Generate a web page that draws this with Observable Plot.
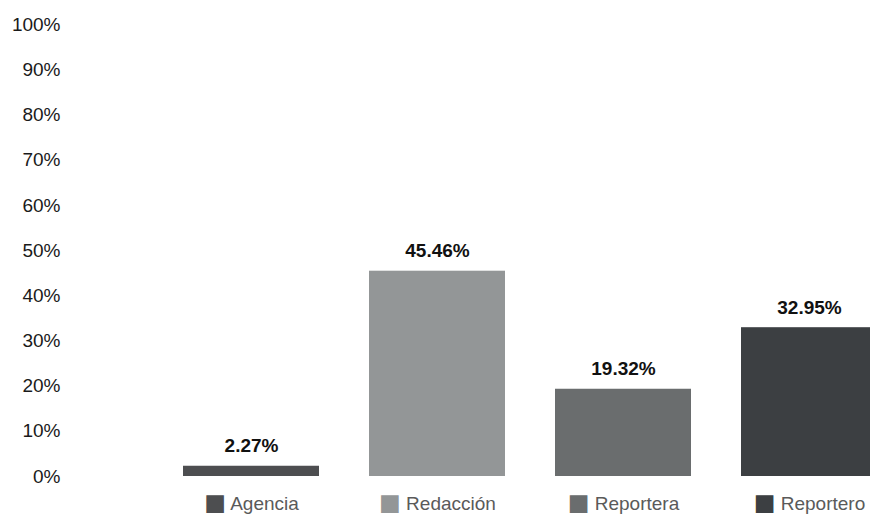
<!DOCTYPE html>
<html>
<head>
<meta charset="utf-8">
<script src="https://cdn.jsdelivr.net/npm/d3@7"></script>
<script src="https://cdn.jsdelivr.net/npm/@observablehq/plot@0.6"></script>
<style>
  html, body { margin: 0; padding: 0; background: #fff; }
  #chart svg { display: block; overflow: hidden; }
</style>
</head>
<body>
<div id="chart"></div>
<script>
const categories = ["Agencia", "Redacción", "Reportera", "Reportero"];
const values = [2.27, 45.46, 19.32, 32.95];
const valueLabels = ["2.27%", "45.46%", "19.32%", "32.95%"];
const yTicks = [0, 10, 20, 30, 40, 50, 60, 70, 80, 90, 100];
const colors = ["#4d4e50", "#939697", "#6a6d6e", "#3c3f42"];

const data = categories.map((c, i) => ({category: c, value: values[i], label: valueLabels[i]}));

const chart = Plot.plot({
  width: 870,
  height: 514,
  marginLeft: 62,
  marginRight: 0,
  marginTop: 0,
  marginBottom: 18,
  style: {fontFamily: "'Liberation Sans', Arial, sans-serif", fontSize: "19px", background: "#fff"},
  x: {domain: categories, range: [158, 902], paddingInner: 0.27, paddingOuter: 0.135, label: null},
  y: {domain: [0, 100], range: [476, 24.4], label: null},
  color: {domain: categories, range: colors},
  marks: [
    Plot.barY(data, {x: "category", y: "value", fill: "category"}),
    Plot.text(data, {x: "category", y: "value", text: "label", lineAnchor: "bottom", dy: -14,
      fontWeight: "bold", fontSize: 19, fill: "#111"}),
    Plot.axisY({ticks: yTicks, tickFormat: d => d + "%", tickSize: 0, tickPadding: 2, fill: "#1a1a1a", fontSize: 19}),
    Plot.axisX({tickSize: 0, tickPadding: 0, fill: "#5a5a5a", fontSize: 19})
  ]
});

document.getElementById("chart").appendChild(chart);

// colour the legend-like square before each category label
const svgns = "http://www.w3.org/2000/svg";
chart.querySelectorAll('g[aria-label="x-axis tick label"] text').forEach(t => {
  const name = t.textContent;
  const i = categories.indexOf(name);
  while (t.firstChild) t.removeChild(t.firstChild);
  const sq = document.createElementNS(svgns, "tspan");
  sq.textContent = "■";
  sq.setAttribute("fill", colors[i]);
  sq.setAttribute("font-family", "'DejaVu Sans', sans-serif");
  sq.setAttribute("font-size", "23");
  const tx = document.createElementNS(svgns, "tspan");
  tx.textContent = " " + name;
  t.appendChild(sq);
  t.appendChild(tx);
});
</script>
</body>
</html>
